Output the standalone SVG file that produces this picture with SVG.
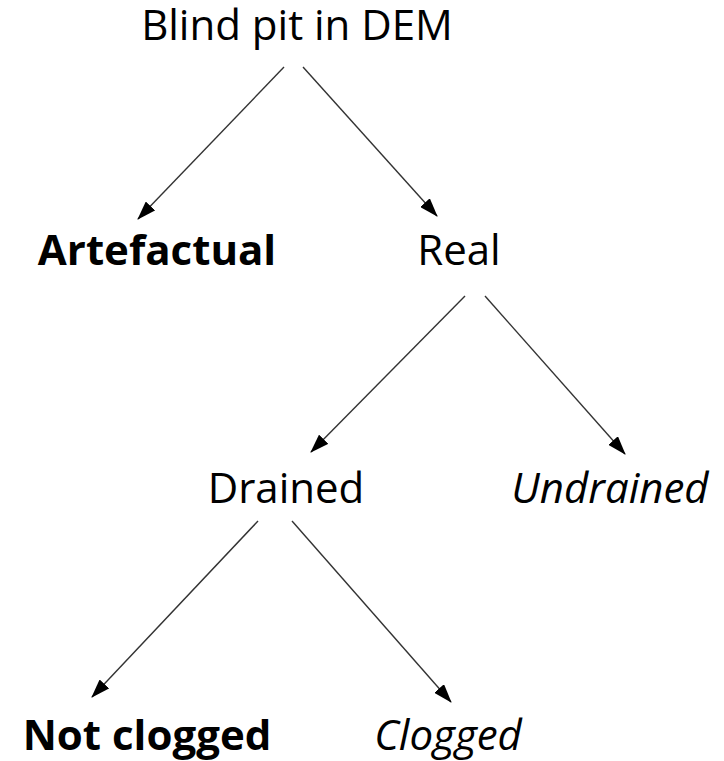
<svg xmlns="http://www.w3.org/2000/svg" width="724" height="761" viewBox="0 0 724 761">
<style>
text{font-family:"Open Sans","Noto Sans",sans-serif;font-size:42px;fill:#000;text-anchor:middle}
.b{font-weight:bold}
.i{font-style:italic}
.e line{stroke:#333;stroke-width:1.4;marker-end:url(#ah)}
</style>
<defs>
<marker id="ah" markerWidth="19" markerHeight="13" refX="18" refY="6.5" orient="auto" markerUnits="userSpaceOnUse">
<path d="M0,0 L19,6.5 L0,13 Z" fill="#000"/>
</marker>
</defs>
<rect width="724" height="761" fill="#fff"/>
<g class="e" id="edges">
<line x1="284" y1="67" x2="138" y2="219"/>
<line x1="303" y1="67" x2="437" y2="216"/>
<line x1="465" y1="296" x2="311" y2="452"/>
<line x1="485" y1="296" x2="625" y2="454"/>
<line x1="258" y1="521" x2="92" y2="697"/>
<line x1="292" y1="521" x2="451" y2="702"/>
</g>
<g id="root"><text x="297" y="40">Blind pit in DEM</text></g>
<g id="artefactual"><text class="b" x="157" y="265">Artefactual</text></g>
<g id="real"><text x="459" y="265">Real</text></g>
<g id="drained"><text x="286" y="503">Drained</text></g>
<g id="undrained"><text class="i" x="610" y="503">Undrained</text></g>
<g id="notclogged"><text class="b" x="147" y="750">Not clogged</text></g>
<g id="clogged"><text class="i" x="448" y="750">Clogged</text></g>
</svg>
